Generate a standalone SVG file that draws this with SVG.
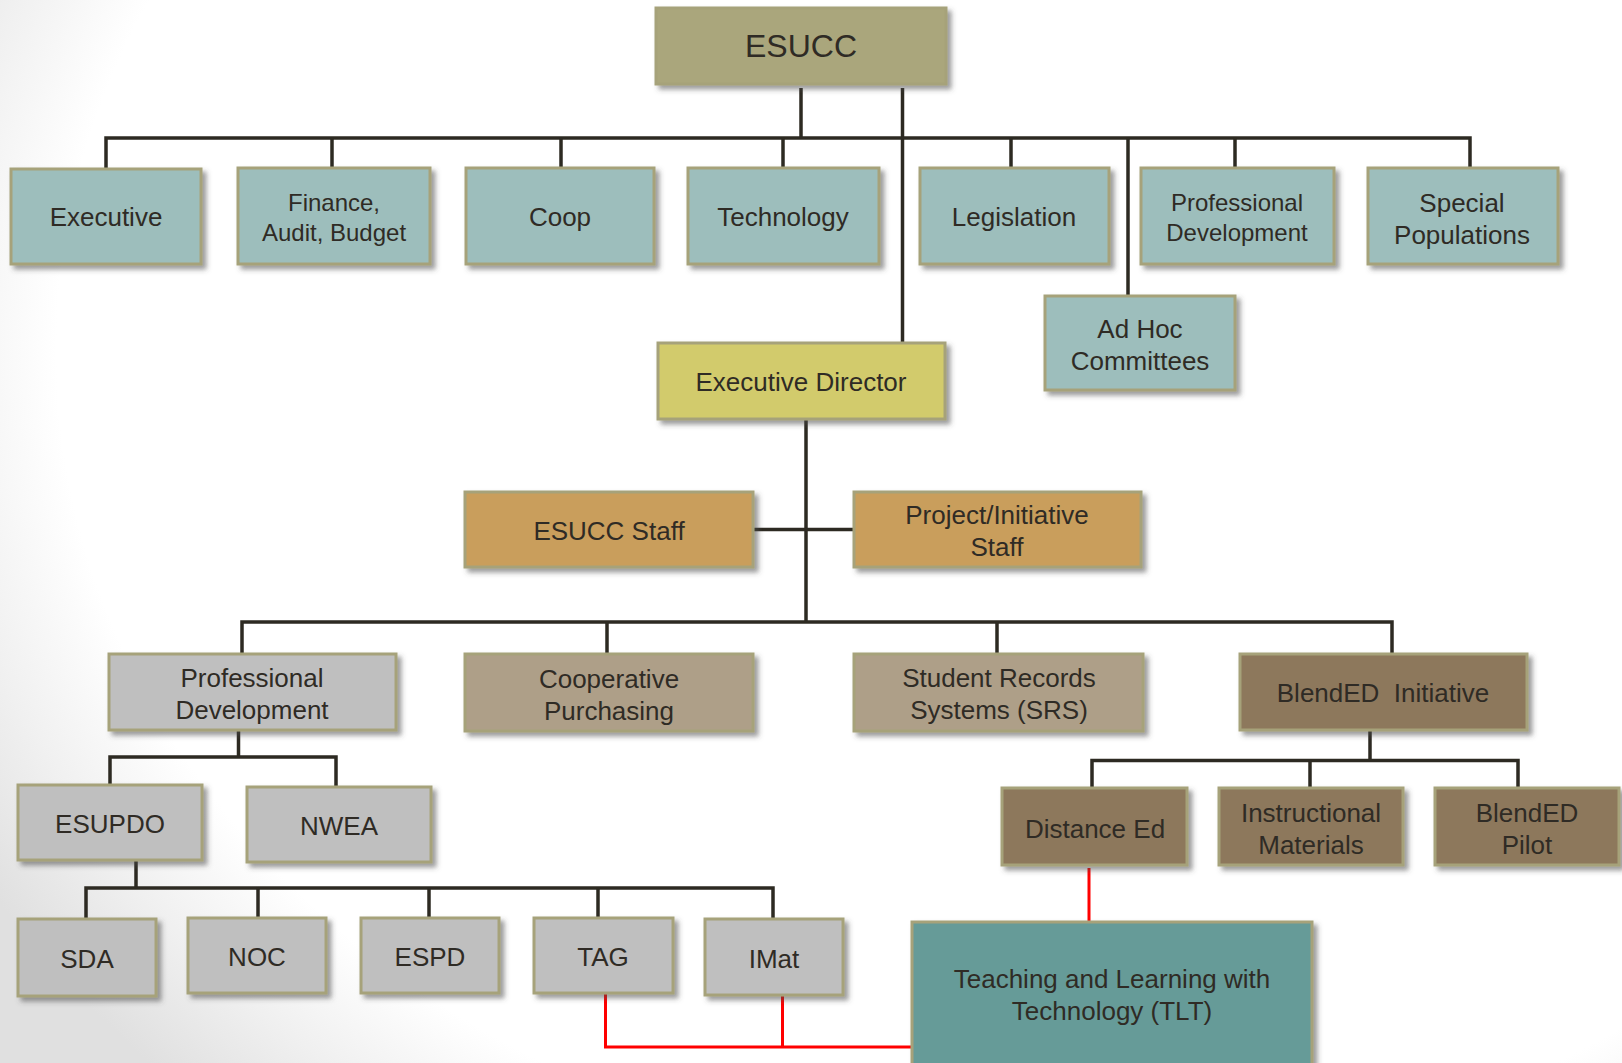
<svg xmlns="http://www.w3.org/2000/svg" width="1622" height="1063" viewBox="0 0 1622 1063">
<defs>
<radialGradient id="bg" gradientUnits="userSpaceOnUse" cx="1050" cy="350" r="1242" gradientTransform="matrix(1,0,0,0.8333,0,58.3)">
<stop offset="0.8" stop-color="#ffffff"/>
<stop offset="0.9" stop-color="#f0f0f0"/>
<stop offset="1" stop-color="#e0e0e0"/>
</radialGradient>
<filter id="sh" x="-10%" y="-10%" width="130%" height="130%">
<feDropShadow dx="4" dy="4" stdDeviation="2.5" flood-color="#4a4a4a" flood-opacity="0.55"/>
</filter>
</defs>
<style>
.box{stroke:#a6a27a;stroke-width:3;filter:url(#sh)}
.t{font-family:"Liberation Sans",Arial,sans-serif;font-size:26px;fill:#2f2b25;text-anchor:middle}
.s{font-size:24px}
.big{font-size:32px}
.olive{fill:#aaa67b}
.blue{fill:#9dbebc}
.yel{fill:#d2cb6c}
.org{fill:#c99e5c}
.gry{fill:#bfbfbf}
.tan{fill:#ae9f88}
.brn{fill:#8d785c}
.teal{fill:#669b98}
.c{fill:none;stroke:#2d2a22;stroke-width:3.5;stroke-linecap:butt;stroke-linejoin:miter}
.r{fill:none;stroke:#ff0000;stroke-width:3;stroke-linejoin:miter}
</style>
<rect x="0" y="0" width="1622" height="1063" fill="url(#bg)"/>

<g id="connectors">
<path class="c" d="M801,88 V138"/>
<path class="c" d="M902.5,88 V343"/>
<path class="c" d="M106,169 V138 H1470 V168"/>
<path class="c" d="M332,138 V168"/>
<path class="c" d="M561,138 V168"/>
<path class="c" d="M783,138 V168"/>
<path class="c" d="M1011,138 V168"/>
<path class="c" d="M1235,138 V168"/>
<path class="c" d="M1128,138 V296"/>
<path class="c" d="M806,419 V622"/>
<path class="c" d="M753,529.5 H854"/>
<path class="c" d="M242,654 V622 H1392 V654"/>
<path class="c" d="M607,622 V654"/>
<path class="c" d="M997,622 V654"/>
<path class="c" d="M238.5,730 V757"/>
<path class="c" d="M110,785 V757 H336 V787"/>
<path class="c" d="M136,860 V888"/>
<path class="c" d="M86,919 V888 H773 V919"/>
<path class="c" d="M258,888 V918"/>
<path class="c" d="M429,888 V918"/>
<path class="c" d="M598,888 V918"/>
<path class="c" d="M1370,730 V760.5"/>
<path class="c" d="M1092,788 V760.5 H1518 V788"/>
<path class="c" d="M1310,760.5 V788"/>
<path class="r" d="M1089,868 V922"/>
<path class="r" d="M605.5,993 V1047 H912"/>
<path class="r" d="M782.5,996 V1047"/>
</g>

<g id="esucc"><rect class="box olive" x="656" y="8" width="290" height="76"/><text class="t big" x="801" y="57">ESUCC</text></g>
<g id="executive"><rect class="box blue" x="11" y="169" width="190" height="95"/><text class="t" x="106" y="226">Executive</text></g>
<g id="finance"><rect class="box blue" x="238" y="168" width="192" height="96"/><text class="t s" x="334" y="211">Finance,</text><text class="t s" x="334" y="241">Audit, Budget</text></g>
<g id="coop"><rect class="box blue" x="466" y="168" width="188" height="96"/><text class="t" x="560" y="226">Coop</text></g>
<g id="technology"><rect class="box blue" x="688" y="168" width="191" height="96"/><text class="t" x="783" y="226">Technology</text></g>
<g id="legislation"><rect class="box blue" x="920" y="168" width="189" height="96"/><text class="t" x="1014" y="226">Legislation</text></g>
<g id="profdev-top"><rect class="box blue" x="1141" y="168" width="193" height="96"/><text class="t s" x="1237" y="211">Professional</text><text class="t s" x="1237" y="241">Development</text></g>
<g id="special"><rect class="box blue" x="1368" y="168" width="190" height="96"/><text class="t" x="1462" y="212">Special</text><text class="t" x="1462" y="244">Populations</text></g>
<g id="adhoc"><rect class="box blue" x="1045" y="296" width="190" height="94"/><text class="t" x="1140" y="338">Ad Hoc</text><text class="t" x="1140" y="370">Committees</text></g>
<g id="execdirector"><rect class="box yel" x="658" y="343" width="287" height="76"/><text class="t" x="801" y="391">Executive Director</text></g>
<g id="esuccstaff"><rect class="box org" x="465" y="492" width="288" height="75"/><text class="t" x="609" y="540">ESUCC Staff</text></g>
<g id="projectstaff"><rect class="box org" x="854" y="492" width="287" height="75"/><text class="t" x="997" y="524">Project/Initiative</text><text class="t" x="997" y="556">Staff</text></g>
<g id="profdev"><rect class="box gry" x="109" y="654" width="287" height="76"/><text class="t" x="252" y="687">Professional</text><text class="t" x="252" y="719">Development</text></g>
<g id="coopp"><rect class="box tan" x="465" y="654" width="288" height="77"/><text class="t" x="609" y="688">Cooperative</text><text class="t" x="609" y="720">Purchasing</text></g>
<g id="srs"><rect class="box tan" x="854" y="654" width="289" height="77"/><text class="t" x="999" y="687">Student Records</text><text class="t" x="999" y="719">Systems (SRS)</text></g>
<g id="blended"><rect class="box brn" x="1240" y="654" width="287" height="76"/><text class="t" x="1383" y="702" xml:space="preserve">BlendED  Initiative</text></g>
<g id="esupdo"><rect class="box gry" x="18" y="785" width="184" height="75"/><text class="t" x="110" y="833">ESUPDO</text></g>
<g id="nwea"><rect class="box gry" x="247" y="787" width="184" height="75"/><text class="t" x="339" y="835">NWEA</text></g>
<g id="distanceed"><rect class="box brn" x="1002" y="788" width="185" height="77"/><text class="t" x="1095" y="838">Distance Ed</text></g>
<g id="instructional"><rect class="box brn" x="1219" y="788" width="184" height="77"/><text class="t" x="1311" y="822">Instructional</text><text class="t" x="1311" y="854">Materials</text></g>
<g id="pilot"><rect class="box brn" x="1435" y="788" width="184" height="77"/><text class="t" x="1527" y="822">BlendED</text><text class="t" x="1527" y="854">Pilot</text></g>
<g id="sda"><rect class="box gry" x="18" y="919" width="138" height="77"/><text class="t" x="87" y="968">SDA</text></g>
<g id="noc"><rect class="box gry" x="188" y="918" width="138" height="75"/><text class="t" x="257" y="966">NOC</text></g>
<g id="espd"><rect class="box gry" x="361" y="918" width="138" height="75"/><text class="t" x="430" y="966">ESPD</text></g>
<g id="tag"><rect class="box gry" x="534" y="918" width="139" height="75"/><text class="t" x="603" y="966">TAG</text></g>
<g id="imat"><rect class="box gry" x="705" y="919" width="138" height="76"/><text class="t" x="774" y="968">IMat</text></g>
<g id="tlt"><rect class="box teal" x="912" y="922" width="400" height="160"/><text class="t" x="1112" y="988">Teaching and Learning with</text><text class="t" x="1112" y="1020">Technology (TLT)</text></g>
</svg>
